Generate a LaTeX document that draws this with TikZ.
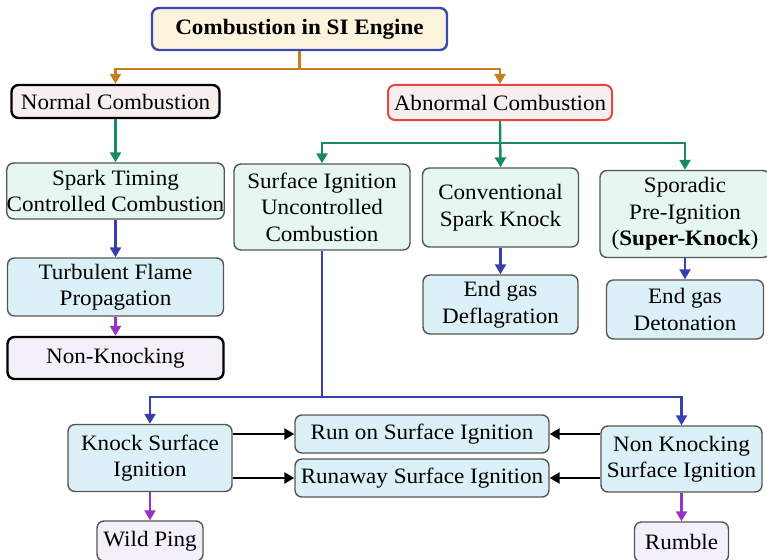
\documentclass[tikz,border=0pt]{standalone}
\usepackage{fontspec}
\setmainfont{Liberation Serif}[FakeStretch=1.05]
\usepackage{tikz}
\usetikzlibrary{arrows,arrows.meta}
\usepackage{xcolor}
\definecolor{titlefill}{HTML}{FCF3DD}
\definecolor{titleline}{HTML}{3C48B4}
\definecolor{orangeline}{HTML}{C87D21}
\definecolor{pinkfill}{HTML}{F7EEEE}
\definecolor{redline}{HTML}{E8453C}
\definecolor{greenline}{HTML}{168A62}
\definecolor{mintfill}{HTML}{E5F7F0}
\definecolor{blueline}{HTML}{3A3FB0}
\definecolor{skyfill}{HTML}{DCF0F7}
\definecolor{purpleline}{HTML}{9A32C2}
\definecolor{lilacfill}{HTML}{F3F0FA}
\definecolor{boxline}{HTML}{555555}

\begin{document}
\begin{tikzpicture}[x=1pt,y=-1pt,
	box/.style={draw=boxline,line width=1.4pt,rounded corners=7pt,align=center,
		inner sep=0pt,font=\fontsize{22}{26.5}\selectfont},
	mint/.style={box,fill=mintfill},
	sky/.style={box,fill=skyfill},
	lilac/.style={box,fill=lilacfill},
	link/.style={-{Triangle[width=11pt,length=10pt]},line width=2.4pt}]
	
	\useasboundingbox (0,0) rectangle (767,559);
	
	\node[box,fill=titlefill,draw=titleline,line width=2.4pt,minimum width=295pt,minimum height=42pt] (si) at (299.5,29) {\textbf{Combustion in SI Engine}};
	\node[box,fill=pinkfill,draw=black,line width=2.4pt,minimum width=208pt,minimum height=33pt] (normal) at (115.5,101.5) {Normal Combustion};
	\node[box,fill=pinkfill,draw=redline,line width=2pt,minimum width=224pt,minimum height=35pt] (abnormal) at (500,102.5) {Abnormal Combustion};
	
	\node[mint,minimum width=217pt,minimum height=56pt] (spark) at (115.5,191) {Spark Timing\\Controlled Combustion};
	\node[mint,minimum width=176pt,minimum height=86pt] (surface) at (322,207) {Surface Ignition\\Uncontrolled\\Combustion};
	\node[mint,minimum width=156pt,minimum height=79pt] (conv) at (500.5,207.5) {Conventional\\Spark Knock};
	\node[mint,minimum width=170pt,minimum height=87pt] (sporadic) at (685,214) {Sporadic\\Pre-Ignition\\(\textbf{Super-Knock})};
	
	\node[sky,minimum width=216pt,minimum height=58pt] (turbulent) at (115.5,287) {Turbulent Flame\\Propagation};
	\node[box,fill=lilacfill,draw=black,line width=2.4pt,minimum width=216pt,minimum height=42pt] (nonknock) at (115.5,358) {Non-Knocking};
	\node[sky,minimum width=155pt,minimum height=59pt] (deflag) at (500.5,304.5) {End gas\\Deflagration};
	\node[sky,minimum width=157pt,minimum height=59pt] (deton) at (685,309.5) {End gas\\Detonation};
	
	\node[sky,minimum width=164pt,minimum height=67pt] (knocksurf) at (150,458) {Knock Surface\\Ignition};
	\node[sky,minimum width=254pt,minimum height=38pt] (runon) at (422,434) {Run on Surface Ignition};
	\node[sky,minimum width=254pt,minimum height=38pt] (runaway) at (422,478) {Runaway Surface Ignition};
	\node[sky,minimum width=161pt,minimum height=66pt] (nonknocksurf) at (681.5,459) {Non Knocking\\Surface Ignition};
	\node[lilac,minimum width=106pt,minimum height=40pt] (wildping) at (150,541) {Wild Ping};
	\node[lilac,minimum width=94pt,minimum height=40pt] (rumble) at (681.5,542) {Rumble};
	
	\draw[link,orangeline] (si.south) -- ++(0,18) -| (normal.north);
	\draw[link,orangeline] (si.south) -- ++(0,18) -| (abnormal.north);
	
	\path[link,greenline] (normal) edge (spark);
	\draw[link,greenline] (abnormal.south) -- ++(0,22) -| (surface.north);
	\draw[link,greenline] (abnormal.south) -- (conv.north);
	\draw[link,greenline] (abnormal.south) -- ++(0,22) -| (sporadic.north);
	
	\path[link,blueline] (spark) edge (turbulent)
	      (conv) edge (deflag)
	      (sporadic) edge (deton);
	\draw[link,blueline] (surface.south) -- ++(0,146) -| (knocksurf.north);
	\draw[link,blueline] (surface.south) -- ++(0,146) -| (nonknocksurf.north);
	
	\path[link,purpleline] (turbulent) edge (nonknock)
	      (knocksurf) edge (wildping)
	      (nonknocksurf) edge (rumble);
	
	\draw[link,black] (knocksurf.east |- runon) -- (runon.west);
	\draw[link,black] (knocksurf.east |- runaway) -- (runaway.west);
	\draw[link,black] (nonknocksurf.west |- runon) -- (runon.east);
	\draw[link,black] (nonknocksurf.west |- runaway) -- (runaway.east);
\end{tikzpicture}
\end{document}
